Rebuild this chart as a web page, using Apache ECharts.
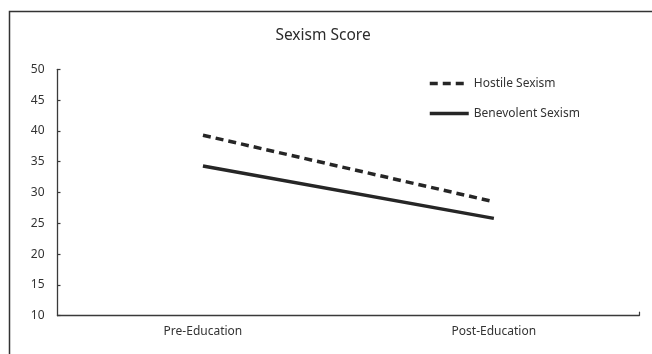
<!DOCTYPE html>
<html>
<head>
<meta charset="utf-8">
<script src="https://cdn.jsdelivr.net/npm/echarts@6/dist/echarts.min.js"></script>
<style>
  html, body { margin: 0; padding: 0; background: #fff; }
  #chart { width: 652px; height: 354px; }
</style>
</head>
<body>
<div id="chart"></div>
<script>
// Mean scores before and after the education session
const categories = ['Pre-Education', 'Post-Education'];
const hostileSexism = [39.3, 28.5];
const benevolentSexism = [34.3, 25.8];
const yTicks = { min: 10, max: 50, interval: 5 };

const FONT = 'Noto Sans';
const INK = '#262626';
const AXIS = '#3a3a3a';
const LABEL = '#333333';

const chart = echarts.init(document.getElementById('chart'), null, { renderer: 'canvas' });

chart.setOption({
  backgroundColor: '#ffffff',
  animation: false,
  textStyle: { fontFamily: FONT },
  title: {
    text: 'Sexism Score',
    left: 318,
    top: 23,
    textAlign: 'center',
    textStyle: { fontFamily: FONT, fontSize: 15.5, fontWeight: 'normal', color: '#2b2b2b' }
  },
  legend: {
    orient: 'vertical',
    left: 428,
    top: 77.5,
    padding: 0,
    itemWidth: 39,
    itemHeight: 14,
    itemGap: 18,
    itemStyle: { opacity: 0 },
    lineStyle: { width: 3.5 },
    textStyle: { fontFamily: FONT, fontSize: 12, color: LABEL },
    data: ['Hostile Sexism', 'Benevolent Sexism']
  },
  grid: { left: 57.5, right: 12.7, top: 69.3, bottom: 38.3, containLabel: false },
  xAxis: [
    {
      type: 'category',
      data: categories,
      boundaryGap: true,
      axisLine: { lineStyle: { color: AXIS, width: 1.3 } },
      axisTick: { alignWithLabel: true, inside: true, length: 4, lineStyle: { color: AXIS, width: 1.2 } },
      axisLabel: { fontFamily: FONT, fontSize: 12, color: LABEL, margin: 10 },
      splitLine: { show: false }
    },
    {
      // closing tick at the far end of the category axis
      type: 'value',
      position: 'bottom',
      min: 0,
      max: 2,
      interval: 2,
      axisLine: { show: false },
      axisTick: { show: true, inside: true, length: 4, customValues: [2], lineStyle: { color: AXIS, width: 1.2 } },
      axisLabel: { show: false },
      splitLine: { show: false }
    }
  ],
  yAxis: {
    type: 'value',
    min: yTicks.min,
    max: yTicks.max,
    interval: yTicks.interval,
    axisLine: { show: true, lineStyle: { color: AXIS, width: 1.3 } },
    axisTick: { show: true, inside: true, length: 3, lineStyle: { color: AXIS, width: 1.2 } },
    axisLabel: { fontFamily: FONT, fontSize: 12, color: LABEL, margin: 13 },
    splitLine: { show: false }
  },
  series: [
    {
      name: 'Hostile Sexism',
      type: 'line',
      xAxisIndex: 0,
      data: hostileSexism,
      symbol: 'none',
      color: INK,
      lineStyle: { color: INK, width: 3.5, type: [8, 5] }
    },
    {
      name: 'Benevolent Sexism',
      type: 'line',
      xAxisIndex: 0,
      data: benevolentSexism,
      symbol: 'none',
      color: INK,
      lineStyle: { color: INK, width: 3.5 }
    }
  ],
  graphic: [
    {
      type: 'rect',
      shape: { x: 9.5, y: 11.5, width: 700, height: 400 },
      style: { fill: null, stroke: '#333', lineWidth: 1.5 },
      silent: true
    }
  ]
});
</script>
</body>
</html>
